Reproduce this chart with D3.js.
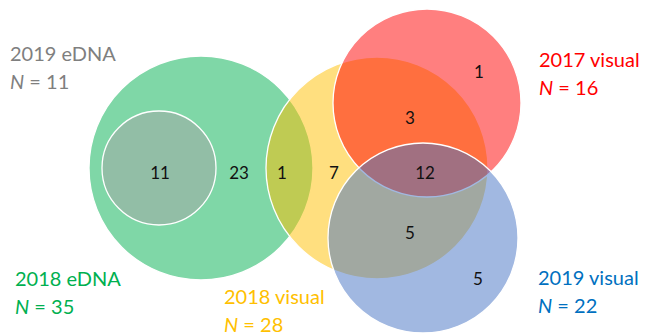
<!DOCTYPE html>
<html>
<head>
<meta charset="utf-8">
<script src="https://cdn.jsdelivr.net/npm/d3@7"></script>
<style>
  body { margin: 0; background: #fff; }
  text { font-family: Lato, "Open Sans", sans-serif; }
</style>
</head>
<body>
<div id="venn"></div>
<script>
// sets and their sizes
var setNames = ["2018 eDNA", "2019 eDNA", "2018 visual", "2017 visual", "2019 visual"];
var setSizes = [35, 11, 28, 16, 22];
var setColors = ["#00B050", "#A5A5A5", "#FFC000", "#FF0000", "#4472C4"];
var labelColors = ["#00B050", "#7F7F7F", "#FFC000", "#FF0000", "#0070C0"];

// region counts
var regionCounts = [11, 23, 1, 7, 3, 1, 12, 5, 5];

(function(){

  var width = 650, height = 335;

  var svg = d3.select("#venn").append("svg")
      .attr("width", width)
      .attr("height", height);

  // layout units -> pixels
  var x = d3.scaleLinear().domain([0, 650]).range([0, width]);
  var y = d3.scaleLinear().domain([0, 335]).range([0, height]);

  // circle layout (cx, cy, r) in same order as setNames
  var circleLayout = [[201, 168, 112], [159, 168, 57], [377, 168, 111], [427, 103, 94], [423, 238, 95]];
  // where each count sits
  var regionLayout = [[160, 172], [239, 172], [282, 172], [334, 172], [410, 117], [479, 71], [425, 172], [410, 232], [478, 278]];
  // label anchors (x, baseline of first line)
  var labelLayout = [[15, 286], [10, 61], [224, 304], [539, 67], [538, 285]];

  var sets = setNames.map(function(name, i){
    return { name: name, n: setSizes[i], color: setColors[i], textColor: labelColors[i],
             c: circleLayout[i], l: labelLayout[i] };
  });

  svg.selectAll("circle")
    .data(sets)
    .enter().append("circle")
    .attr("cx", function(d){ return x(d.c[0]) })
    .attr("cy", function(d){ return y(d.c[1]) })
    .attr("r", function(d){ return x(d.c[2]) })
    .style("fill", function(d){ return d.color })
    .style("fill-opacity", 0.5)
    .style("stroke", "#fff")
    .style("stroke-width", 1.3);

  svg.selectAll(".count")
    .data(regionCounts)
    .enter().append("text")
    .attr("class", "count")
    .attr("x", function(d, i){ return x(regionLayout[i][0]) })
    .attr("y", function(d, i){ return y(regionLayout[i][1]) })
    .attr("text-anchor", "middle")
    .attr("dominant-baseline", "central")
    .style("font-size", "17px")
    .style("fill", "#111")
    .text(function(d){ return d });

  var labels = svg.selectAll(".setlabel")
    .data(sets)
    .enter().append("text")
    .attr("class", "setlabel")
    .attr("x", function(d){ return x(d.l[0]) })
    .attr("y", function(d){ return y(d.l[1]) })
    .style("font-size", "20px")
    .style("fill", function(d){ return d.textColor });

  labels.append("tspan")
    .text(function(d){ return d.name });

  var second = labels.append("tspan")
    .attr("x", function(d){ return x(d.l[0]) })
    .attr("dy", 28);
  second.append("tspan").style("font-style", "italic").text("N");
  second.append("tspan").text(function(d){ return " = " + d.n });

})()
</script>
</body>
</html>
